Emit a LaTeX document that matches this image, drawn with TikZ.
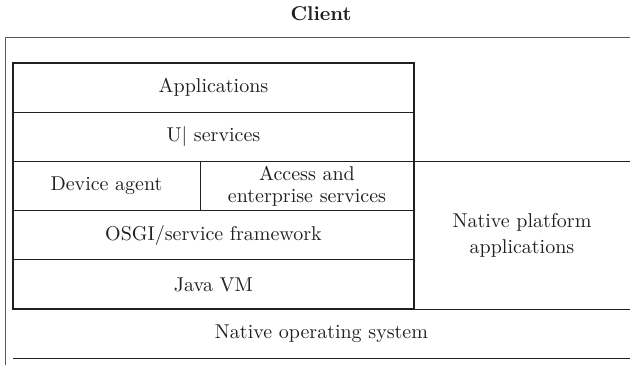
\documentclass[tikz,border=0pt]{standalone}
\usetikzlibrary{positioning}
\definecolor{ink}{HTML}{231F20}
\tikzset{
  layer/.style={draw=ink, line width=0.5pt, outer sep=0pt, inner sep=0pt,
    minimum width=200.5pt, minimum height=24.6pt, text=ink, align=center,
    font=\fontsize{10}{11}\selectfont},
  open layer/.style={layer, draw=none},
  stack edge/.style={draw=ink, line width=0.9pt},
  frame/.style={draw=ink!75, line width=0.5pt}
}
\begin{document}
\begin{tikzpicture}[x=0.5pt, y=-0.5pt]
  \useasboundingbox (0,0) rectangle (630,365);
  \node[text=ink, font=\fontsize{10}{12}\selectfont\bfseries] (client) at (321,14) {Client};
  \coordinate (frametop) at (5,37);
  \coordinate (frameright) at (630,37);
  \coordinate (framebottom) at (5,365);
  \draw[frame] (framebottom) -- (frametop) -- (frameright);
  % java stack
  \node[layer] (apps) at (213.5,87.6) {Applications};
  \node[layer, below=0pt of apps] (ui) {U| services};
  \node[layer, minimum width=93.5pt, anchor=north west] (device) at (ui.south west) {Device agent};
  \node[layer, minimum width=107pt, anchor=north west] (access) at (device.north east) {Access and\\enterprise services};
  \node[layer, anchor=north west] (osgi) at (device.south west) {OSGI/service framework};
  \node[layer, below=0pt of osgi] (java) {Java VM};
  \draw[stack edge] (apps.north west) rectangle (java.south east);
  % native side
  \node[open layer, minimum width=108pt, minimum height=73.8pt, anchor=north west,
    font=\fontsize{10}{13}\selectfont] (native) at (access.north east) {Native platform\\applications};
  \draw[layer] (native.north west) -- (native.north east);
  \draw[layer] (native.south west) -- (native.south east);
  \node[open layer, minimum width=308.5pt, anchor=north west] (os) at (java.south west) {Native operating system};
  \draw[layer] (os.south west) -- (os.south east);
\end{tikzpicture}
\end{document}
